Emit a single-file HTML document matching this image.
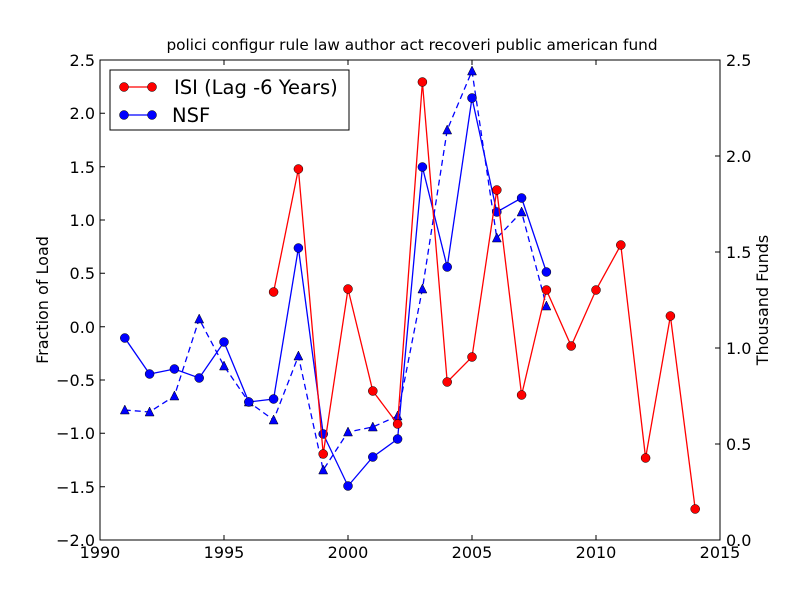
<!DOCTYPE html>
<html><head><meta charset="utf-8"><style>body{margin:0;background:#fff}svg{display:block}text{font-family:"DejaVu Sans","Liberation Sans",sans-serif;fill:#000}</style></head>
<body>
<svg width="800" height="600" viewBox="0 0 800 600" xmlns="http://www.w3.org/2000/svg">
<rect width="800" height="600" fill="#fff"/>
<text x="412" y="50" font-size="15.3" text-anchor="middle">polici configur rule law author act recoveri public american fund</text>
<polyline fill="none" stroke="#0000ff" stroke-width="1.3" stroke-dasharray="6,4" points="124.8,410 149.6,412 174.4,396 199.2,319 224,366 248.8,402 273.6,420 298.4,356 323.2,470 348,432 372.8,427 397.6,416 422.4,289 447.2,130 472,71 496.8,238 521.6,212 546.4,306"/>
<g fill="#0000ff" stroke="#000" stroke-width="0.5">
<polygon points="124.8,405 129.3,414 120.3,414"/><polygon points="149.6,407 154.1,416 145.1,416"/><polygon points="174.4,391 178.9,400 169.9,400"/><polygon points="199.2,314 203.7,323 194.7,323"/><polygon points="224,361 228.5,370 219.5,370"/><polygon points="248.8,397 253.3,406 244.3,406"/><polygon points="273.6,415 278.1,424 269.1,424"/><polygon points="298.4,351 302.9,360 293.9,360"/><polygon points="323.2,465 327.7,474 318.7,474"/><polygon points="348,427 352.5,436 343.5,436"/><polygon points="372.8,422 377.3,431 368.3,431"/><polygon points="397.6,411 402.1,420 393.1,420"/><polygon points="422.4,284 426.9,293 417.9,293"/><polygon points="447.2,125 451.7,134 442.7,134"/><polygon points="472,66 476.5,75 467.5,75"/><polygon points="496.8,233 501.3,242 492.3,242"/><polygon points="521.6,207 526.1,216 517.1,216"/><polygon points="546.4,301 550.9,310 541.9,310"/>
</g>
<polyline fill="none" stroke="#0000ff" stroke-width="1.3" points="124.8,338 149.6,374 174.4,369 199.2,378 224,342 248.8,402 273.6,399 298.4,248 323.2,434 348,486 372.8,457 397.6,439 422.4,167 447.2,267 472,98 496.8,212 521.6,198 546.4,272"/>
<g fill="#0000ff" stroke="#000" stroke-width="0.5">
<circle cx="124.8" cy="338" r="4.5"/><circle cx="149.6" cy="374" r="4.5"/><circle cx="174.4" cy="369" r="4.5"/><circle cx="199.2" cy="378" r="4.5"/><circle cx="224" cy="342" r="4.5"/><circle cx="248.8" cy="402" r="4.5"/><circle cx="273.6" cy="399" r="4.5"/><circle cx="298.4" cy="248" r="4.5"/><circle cx="323.2" cy="434" r="4.5"/><circle cx="348" cy="486" r="4.5"/><circle cx="372.8" cy="457" r="4.5"/><circle cx="397.6" cy="439" r="4.5"/><circle cx="422.4" cy="167" r="4.5"/><circle cx="447.2" cy="267" r="4.5"/><circle cx="472" cy="98" r="4.5"/><circle cx="496.8" cy="212" r="4.5"/><circle cx="521.6" cy="198" r="4.5"/><circle cx="546.4" cy="272" r="4.5"/>
</g>
<polyline fill="none" stroke="#ff0000" stroke-width="1.3" points="273.6,292 298.4,169 323.2,454 348,289 372.8,391 397.6,424 422.4,82 447.2,382 472,357 496.8,190 521.6,395 546.4,290 571.2,346 596,290 620.8,245 645.6,458 670.4,316 695.2,509"/>
<g fill="#ff0000" stroke="#000" stroke-width="0.5">
<circle cx="273.6" cy="292" r="4.5"/><circle cx="298.4" cy="169" r="4.5"/><circle cx="323.2" cy="454" r="4.5"/><circle cx="348" cy="289" r="4.5"/><circle cx="372.8" cy="391" r="4.5"/><circle cx="397.6" cy="424" r="4.5"/><circle cx="422.4" cy="82" r="4.5"/><circle cx="447.2" cy="382" r="4.5"/><circle cx="472" cy="357" r="4.5"/><circle cx="496.8" cy="190" r="4.5"/><circle cx="521.6" cy="395" r="4.5"/><circle cx="546.4" cy="290" r="4.5"/><circle cx="571.2" cy="346" r="4.5"/><circle cx="596" cy="290" r="4.5"/><circle cx="620.8" cy="245" r="4.5"/><circle cx="645.6" cy="458" r="4.5"/><circle cx="670.4" cy="316" r="4.5"/><circle cx="695.2" cy="509" r="4.5"/>
</g>
<rect x="100" y="60" width="620" height="480" fill="none" stroke="#000" stroke-width="1"/>
<g stroke="#000" stroke-width="1">
<path d="M224,540v-5M348,540v-5M472,540v-5M596,540v-5M224,60v5M348,60v5M472,60v5M596,60v5"/>
<path d="M100,113.3h5M100,166.7h5M100,220h5M100,273.3h5M100,326.7h5M100,380h5M100,433.3h5M100,486.7h5"/>
<path d="M720,444h-5M720,348h-5M720,252h-5M720,156h-5"/>
</g>
<g font-size="16" text-anchor="middle">
<text x="100" y="558">1990</text><text x="224" y="558">1995</text><text x="348" y="558">2000</text><text x="472" y="558">2005</text><text x="596" y="558">2010</text><text x="720" y="558">2015</text>
</g>
<g font-size="16" text-anchor="end">
<text x="95" y="66">2.5</text><text x="95" y="119">2.0</text><text x="95" y="173">1.5</text><text x="95" y="226">1.0</text><text x="95" y="279">0.5</text><text x="95" y="333">0.0</text><text x="95" y="386">−0.5</text><text x="95" y="439">−1.0</text><text x="95" y="493">−1.5</text><text x="95" y="546">−2.0</text>
</g>
<g font-size="16" text-anchor="start">
<text x="726" y="66">2.5</text><text x="726" y="162">2.0</text><text x="726" y="258">1.5</text><text x="726" y="354">1.0</text><text x="726" y="450">0.5</text><text x="726" y="546">0.0</text>
</g>
<text font-size="16" text-anchor="middle" transform="translate(48,300) rotate(-90)">Fraction of Load</text>
<text font-size="16" text-anchor="middle" transform="translate(768,300) rotate(-90)">Thousand Funds</text>
<rect x="110" y="70" width="239" height="60" fill="#fff" stroke="#000" stroke-width="1"/>
<line x1="124" y1="87" x2="152" y2="87" stroke="#ff0000" stroke-width="1.3"/>
<circle cx="124" cy="87" r="4.5" fill="#ff0000" stroke="#000" stroke-width="0.5"/><circle cx="152" cy="87" r="4.5" fill="#ff0000" stroke="#000" stroke-width="0.5"/>
<line x1="124" y1="115" x2="152" y2="115" stroke="#0000ff" stroke-width="1.3"/>
<circle cx="124" cy="115" r="4.5" fill="#0000ff" stroke="#000" stroke-width="0.5"/><circle cx="152" cy="115" r="4.5" fill="#0000ff" stroke="#000" stroke-width="0.5"/>
<text x="174" y="94" font-size="19.5">ISI (Lag -6 Years)</text>
<text x="172" y="122" font-size="19.5">NSF</text>
</svg>
</body></html>
